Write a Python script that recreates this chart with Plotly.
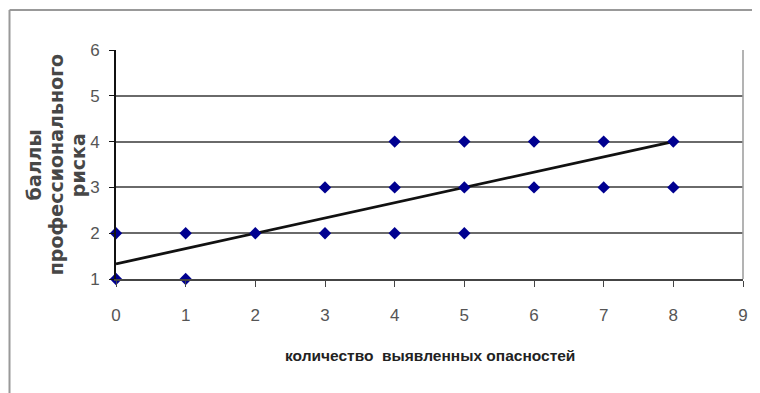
import plotly.graph_objects as go

# data
pts_x = [0, 0, 1, 1, 2, 3, 3, 4, 4, 4, 5, 5, 5, 6, 6, 7, 7, 8, 8]
pts_y = [1, 2, 1, 2, 2, 2, 3, 2, 3, 4, 2, 3, 4, 3, 4, 3, 4, 3, 4]
trend_x = [0, 8]
trend_y = [1.33, 4.0]
x_ticks = [0, 1, 2, 3, 4, 5, 6, 7, 8, 9]
y_ticks = [1, 2, 3, 4, 5, 6]
x_title = "количество  выявленных опасностей"
y_title_lines = ["баллы", "профессионального", "риска"]

# page has an 8px body margin; work in page pixels and convert
OFF = 8
W, H = 752, 385
L, R, T, B = 116 - OFF, 14, 50 - OFF, 114
pw, ph = W - L - R, H - T - B


def px(x):
    return (x - OFF - L) / pw


def py(y):
    return (H - B - (y - OFF)) / ph


narrow = "Liberation Sans Narrow, Arial Narrow, Liberation Sans, Arial, sans-serif"

fig = go.Figure()
fig.add_trace(go.Scatter(
    x=trend_x, y=trend_y, mode="lines", cliponaxis=False,
    line=dict(color="#111111", width=2.8), showlegend=False, hoverinfo="skip"))
fig.add_trace(go.Scatter(
    x=pts_x, y=pts_y, mode="markers", cliponaxis=False,
    marker=dict(symbol="diamond", size=9.5, color="#000090"),
    showlegend=False))

annotations = [
    dict(text=x_title, xref="paper", yref="paper", x=px(431), y=py(355),
         showarrow=False, xanchor="center", yanchor="middle",
         font=dict(family=narrow, size=15.5, color="#222222", weight="bold")),
]
for xpos, line in zip([34, 56, 78], y_title_lines):
    annotations.append(dict(
        text=line, xref="paper", yref="paper", x=px(xpos), y=py(165),
        showarrow=False, xanchor="center", yanchor="middle", textangle=-90,
        font=dict(family="DejaVu Sans, Liberation Sans, sans-serif", size=19,
                  color="#474747", weight="bold")))

fig.update_layout(
    width=W, height=H,
    margin=dict(l=L, r=R, t=T, b=B),
    paper_bgcolor="white", plot_bgcolor="white",
    xaxis=dict(range=[0, 9], tickvals=x_ticks, showgrid=False, zeroline=False,
               showline=True, linecolor="#444444", linewidth=1.6,
               ticks="outside", ticklen=6, tickcolor="#444444", tickwidth=1.4,
               ticklabelstandoff=14,
               tickfont=dict(family=narrow, size=17, color="#555555")),
    yaxis=dict(range=[1, 6], tickvals=y_ticks, showgrid=True, gridcolor="#6a6a6a",
               gridwidth=1.6, zeroline=False,
               showline=True, linecolor="#111111", linewidth=1.6,
               ticks="outside", ticklen=5, tickcolor="#111111", tickwidth=1.4,
               ticklabelstandoff=6,
               tickfont=dict(family=narrow, size=17, color="#555555")),
    shapes=[
        dict(type="line", xref="paper", yref="paper", x0=1, x1=1, y0=0, y1=1,
             line=dict(color="#a0a0a0", width=1.6)),
        dict(type="line", xref="paper", yref="paper", x0=px(9), x1=px(770),
             y0=py(10), y1=py(10), line=dict(color="#999999", width=2)),
        dict(type="line", xref="paper", yref="paper", x0=px(9), x1=px(9),
             y0=py(10), y1=py(400), line=dict(color="#999999", width=2)),
    ],
    annotations=annotations,
)

fig.write_html("out.html", config={"displayModeBar": False})
